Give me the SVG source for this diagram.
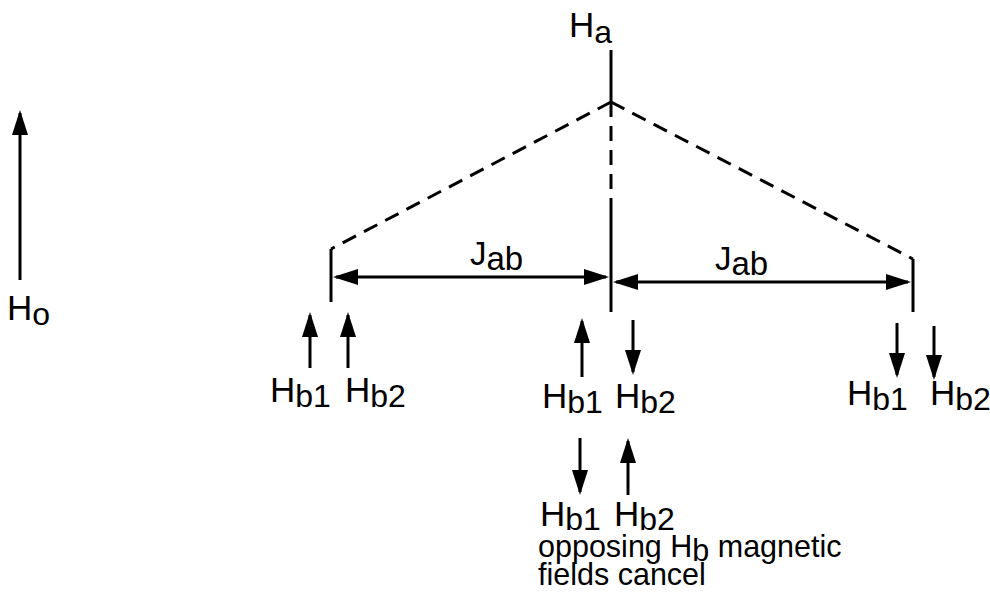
<svg xmlns="http://www.w3.org/2000/svg" width="990" height="604" viewBox="0 0 990 604">
<style>
text{font-family:"Liberation Sans",Arial,sans-serif;fill:#000;font-size:35px}
.sub{font-size:32px}
.ln{stroke:#000;stroke-width:3;fill:none}
.ds{stroke:#000;stroke-width:3;fill:none;stroke-dasharray:15 9}
.arr{stroke:#000;stroke-width:3;fill:none;marker-end:url(#ah)}
.dbl{stroke:#000;stroke-width:3;fill:none;marker-end:url(#ah);marker-start:url(#ah)}
.note{font-size:30.5px}
.j{font-size:33px}
</style>
<defs>
<marker id="ah" markerWidth="25" markerHeight="16" refX="22" refY="8" orient="auto-start-reverse" markerUnits="userSpaceOnUse">
<path d="M0,0 L25,8 L0,16 z" fill="#000"/>
</marker>
</defs>
<rect width="990" height="604" fill="#fff"/>
<g id="Ho">
<line class="arr" x1="20" y1="280" x2="20" y2="113"/>
<text x="7" y="320">H<tspan class="sub" dy="5">o</tspan></text>
</g>
<g id="Ha">
<text x="569" y="37">H<tspan class="sub" dy="6">a</tspan></text>
<line class="ln" x1="611" y1="50" x2="611" y2="102"/>
<line class="ds" x1="611" y1="102" x2="611" y2="203"/>
<line class="ln" x1="611" y1="203" x2="611" y2="312"/>
</g>
<g id="left-line">
<line class="ln" x1="331" y1="249" x2="331" y2="302"/>
<line class="arr" x1="310" y1="368" x2="310" y2="315"/>
<line class="arr" x1="348" y1="368" x2="348" y2="315"/>
<text x="270" y="402">H<tspan class="sub" dy="5">b1</tspan></text>
<text x="345" y="402">H<tspan class="sub" dy="5">b2</tspan></text>
</g>
<g id="center-line">
<line class="arr" x1="582" y1="377" x2="582" y2="321"/>
<line class="arr" x1="633" y1="320" x2="633" y2="372"/>
<text x="542" y="408">H<tspan class="sub" dy="5">b1</tspan></text>
<text x="615" y="408">H<tspan class="sub" dy="5">b2</tspan></text>
</g>
<g id="cancel">
<line class="arr" x1="580" y1="438" x2="580" y2="492"/>
<line class="arr" x1="628" y1="495" x2="628" y2="441"/>
<text x="540" y="526">H<tspan class="sub" dy="4">b1</tspan></text>
<text x="614" y="526">H<tspan class="sub" dy="4">b2</tspan></text>
<text class="note" x="538" y="557">opposing H<tspan dy="4">b</tspan><tspan dy="-4"> magnetic</tspan></text>
<text class="note" x="538" y="585">fields cancel</text>
</g>
<g id="right-line">
<line class="ln" x1="913" y1="259" x2="913" y2="312"/>
<line class="arr" x1="897" y1="323" x2="897" y2="375"/>
<line class="arr" x1="934" y1="326" x2="934" y2="377"/>
<text x="847" y="405">H<tspan class="sub" dy="5">b1</tspan></text>
<text x="930" y="405">H<tspan class="sub" dy="5">b2</tspan></text>
</g>
<g id="connectors">
<line class="ds" x1="611" y1="102" x2="331" y2="249"/>
<line class="ds" x1="611" y1="102" x2="913" y2="259"/>
<line class="dbl" x1="336" y1="277" x2="606" y2="277"/>
<line class="dbl" x1="616" y1="282" x2="908" y2="282"/>
<text class="j" x="470" y="265">J<tspan dy="5">ab</tspan></text>
<text class="j" x="715" y="270">J<tspan dy="5">ab</tspan></text>
</g>
</svg>
